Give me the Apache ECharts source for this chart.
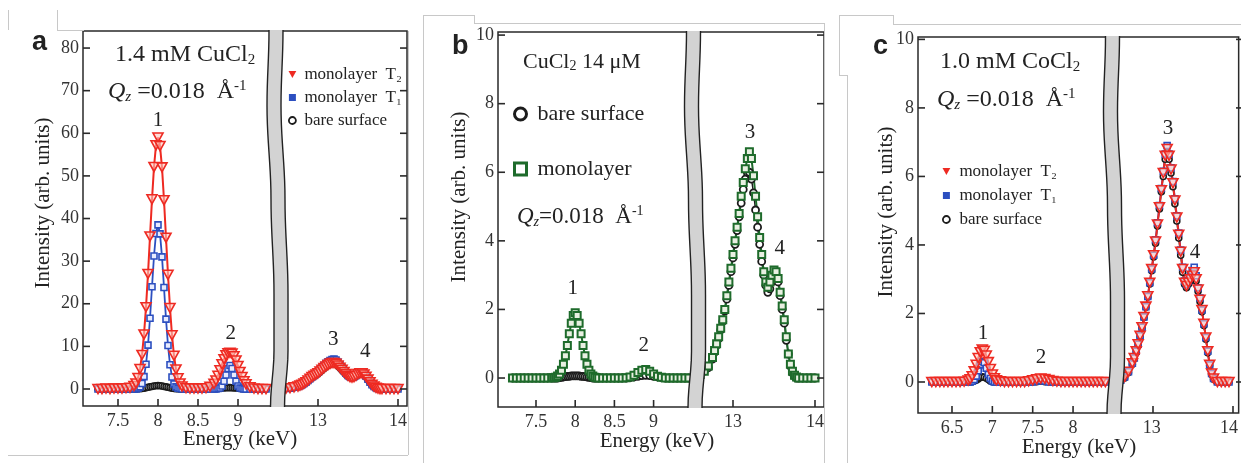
<!DOCTYPE html>
<html>
<head>
<meta charset="utf-8">
<script src="https://cdn.jsdelivr.net/npm/echarts@6/dist/echarts.min.js"></script>
<style>
  html, body { margin: 0; background: #fff; }
  #chart { width: 1241px; height: 463px; }
</style>
</head>
<body>
<div id="chart"></div>
<script>
// ---- data (energy in keV, intensity in arb. units) ----
const eLeftA = [7.25,7.3,7.35,7.4,7.45,7.5,7.55,7.6,7.65,7.7,
  7.725,7.75,7.775,7.8,7.825,7.85,7.875,7.9,7.925,7.95,7.975,8.0,8.025,8.05,8.075,8.1,8.125,8.15,8.175,8.2,8.225,8.25,8.275,8.3,
  8.35,8.4,8.45,8.5,8.55,8.6,8.65,8.7,
  8.725,8.75,8.775,8.8,8.825,8.85,8.875,8.9,8.925,8.95,8.975,9.0,9.025,9.05,9.075,9.1,
  9.15,9.2,9.25,9.3,9.35]
const aT2Left = [0.0,0.0,0.1,0.0,0.1,0.1,0.1,0.2,0.3,0.7,
  1.3,2.6,4.7,8.0,12.8,19.2,27.0,35.8,44.5,52.1,57.2,59.0,57.0,52.0,44.3,35.5,26.8,19.0,12.6,7.8,4.6,2.5,1.3,0.6,
  0.2,0.1,0.1,0.1,0.1,0.2,0.5,1.2,
  2.0,3.1,4.4,5.8,7.0,7.9,8.4,8.5,8.3,7.7,6.7,5.4,4.0,2.8,1.8,1.1,
  0.4,0.1,0.0,0.0,0.0]
const aT1Left = [0,0,0,0,0,0,0,0,0,0,
  0.0,0.2,0.5,1.3,2.9,5.8,10.3,16.6,24.0,31.2,36.5,38.5,36.4,31.0,23.8,16.4,10.2,5.7,2.8,1.2,0.5,0.2,0.1,0.0,
  0,0,0,0,0,0,0,0,
  0.0,0.1,0.24,0.7,1.8,3.3,4.8,5.5,4.8,3.3,1.8,0.7,0.24,0.1,0.0,0.0,
  0,0,0,0,0]
const aBareLeft = [0,0,0,0,0,0,0,0,0,0,
  0.0,0.05,0.08,0.12,0.2,0.3,0.4,0.5,0.6,0.7,0.75,0.8,0.75,0.7,0.6,0.5,0.4,0.3,0.2,0.12,0.08,0.05,0.0,0.0,
  0,0,0,0,0,0,0,0.05,
  0.08,0.12,0.18,0.22,0.26,0.3,0.32,0.32,0.3,0.26,0.22,0.18,0.12,0.08,0.05,0.0,
  0,0,0,0,0]

const eRight = [12.55,12.6,12.65,12.7,12.75,
  12.775,12.8,12.825,12.85,12.875,12.9,12.925,12.95,12.975,13.0,
  13.025,13.05,13.075,13.1,13.125,13.15,13.175,13.2,13.225,13.25,
  13.275,13.3,13.325,13.35,13.375,13.4,13.425,13.45,13.475,13.5,
  13.525,13.55,13.575,13.6,13.625,13.65,13.675,13.7,13.725,13.75,
  13.775,13.8,13.85,13.9,13.95,14.0]
const aT2Right = [0.0,0.1,0.2,0.4,0.6,
  0.8,1.0,1.3,1.6,2.0,2.4,2.8,3.1,3.4,3.7,
  4.1,4.5,4.9,5.3,5.6,5.9,6.1,6.1,5.9,5.5,
  5.0,4.5,4.0,3.5,3.1,2.8,2.7,2.8,3.1,3.5,
  3.7,3.7,3.4,2.9,2.2,1.6,1.0,0.6,0.3,0.1,
  0.0,0.0,0.0,0.0,0.0,0.0]
const aT1Right = [0.0,0.1,0.2,0.4,0.6,
  0.8,1.0,1.3,1.6,2.0,2.4,2.8,3.2,3.6,4.0,
  4.5,5.0,5.5,6.0,6.4,6.7,6.9,7.0,6.8,6.3,
  5.7,5.0,4.3,3.7,3.2,2.9,2.8,2.9,3.2,3.6,
  3.9,3.9,3.6,3.0,2.3,1.6,1.0,0.6,0.3,0.1,
  0.0,0.0,0.0,0.0,0.0,0.0]
const aBareRight = [0.0,0.1,0.2,0.3,0.5,
  0.7,0.9,1.2,1.5,1.9,2.3,2.7,3.0,3.3,3.6,
  4.0,4.4,4.8,5.2,5.5,5.8,6.0,6.0,5.8,5.4,
  4.9,4.4,3.9,3.4,3.0,2.7,2.6,2.7,3.0,3.4,
  3.6,3.6,3.3,2.8,2.1,1.5,0.9,0.5,0.2,0.1,
  0.0,0.0,0.0,0.0,0.0,0.0]

const eLeftB = [7.2,7.25,7.3,7.35,7.4,7.45,7.5,7.55,7.6,7.65,7.7,
  7.725,7.75,7.775,7.8,7.825,7.85,7.875,7.9,7.925,7.95,7.975,8.0,8.025,8.05,8.075,8.1,8.125,8.15,8.175,8.2,8.225,8.25,8.275,8.3,
  8.35,8.4,8.45,8.5,8.55,8.6,8.65,8.7,8.75,8.8,8.85,8.9,8.95,9.0,9.05,9.1,9.15,9.2,9.25,9.3,9.35,9.4,9.45]
const bMonoLeft = [0,0,0,0,0,0,0,0,0,0,0.01,
  0.01,0.025,0.06,0.12,0.23,0.4,0.65,0.95,1.29,1.6,1.82,1.9,1.82,1.6,1.29,0.95,0.65,0.4,0.23,0.12,0.06,0.025,0.01,0.0,
  0,0,0,0,0,0,0.01,0.03,0.08,0.16,0.23,0.25,0.2,0.12,0.05,0.02,0,0,0,0,0,0,0]
const bBareLeft = [0,0,0,0,0,0,0,0,0,0,0,
  0,0,0,0.01,0.02,0.03,0.04,0.05,0.05,0.06,0.06,0.06,0.06,0.06,0.05,0.05,0.04,0.03,0.02,0.01,0,0,0,0,
  0,0,0,0,0,0,0,0.01,0.03,0.05,0.07,0.08,0.07,0.05,0.03,0.01,0,0,0,0,0,0,0]
const bMonoRight = [0.05,0.1,0.2,0.35,0.6,
  0.8,1.0,1.2,1.45,1.7,2.0,2.4,2.8,3.2,3.6,
  4.0,4.4,4.8,5.3,5.7,6.1,6.4,6.6,6.4,5.9,
  5.3,4.7,4.1,3.6,3.1,2.8,2.65,2.8,3.0,3.15,
  3.1,2.9,2.5,2.1,1.7,1.2,0.7,0.4,0.2,0.08,
  0.03,0.0,0.0,0.0,0.0,0.0]
const bBareRight = [0.0,0.1,0.2,0.3,0.55,
  0.75,0.95,1.15,1.4,1.65,1.95,2.3,2.7,3.1,3.5,
  3.9,4.3,4.7,5.1,5.5,5.8,6.0,6.0,5.8,5.4,
  4.9,4.4,3.9,3.4,3.0,2.7,2.5,2.6,2.8,3.0,
  3.0,2.8,2.4,2.0,1.6,1.1,0.7,0.35,0.15,0.05,
  0.0,0.0,0.0,0.0,0.0,0.0]

const eLeftC = [6.25,6.3,6.35,6.4,6.45,6.5,6.55,6.6,6.65,6.7,
  6.725,6.75,6.775,6.8,6.825,6.85,6.875,6.9,6.925,6.95,6.975,7.0,7.025,7.05,
  7.1,7.15,7.2,7.25,7.3,7.35,7.4,7.45,7.5,7.55,7.6,7.65,7.7,7.75,7.8,7.85,7.9,7.95,8.0,8.05,8.1,8.15,8.2,8.25,8.3,8.35,8.4]
const cT2Left = [0,0,0,0,0,0,0,0,0.01,0.04,
  0.08,0.17,0.31,0.5,0.7,0.87,0.95,0.91,0.77,0.58,0.38,0.22,0.11,0.05,
  0.02,0,0,0,0,0,0,0.02,0.05,0.08,0.1,0.09,0.06,0.03,0.01,0,0,0,0,0,0,0,0,0,0,0,0]
const cT1Left = [0,0,0,0,0,0,0,0,0,0,
  0.0,0.02,0.07,0.17,0.33,0.5,0.6,0.56,0.4,0.22,0.1,0.03,0.0,0.0,
  0,0,0,0,0,0,0,0,0,0.03,0.04,0.03,0,0,0,0,0,0,0,0,0,0,0,0,0,0,0]
const cBareLeft = [0,0,0,0,0,0,0,0,0,0,
  0,0.01,0.03,0.05,0.09,0.13,0.15,0.14,0.11,0.07,0.03,0.01,0,0,
  0,0,0,0,0,0,0,0,0,0.01,0.02,0.01,0,0,0,0,0,0,0,0,0,0,0,0,0,0,0]
const cT2Right = [0.0,0.05,0.15,0.3,0.55,
  0.7,0.9,1.1,1.35,1.6,1.9,2.2,2.5,2.9,3.3,
  3.7,4.1,4.6,5.1,5.6,6.1,6.6,6.8,6.6,6.2,
  5.8,5.3,4.8,4.3,3.8,3.3,2.9,2.8,2.9,3.0,
  3.1,3.2,3.0,2.7,2.4,2.1,1.7,1.3,0.9,0.5,
  0.25,0.1,0.0,0.0,0.0,0.0]
const cT1Right = [0.0,0.05,0.15,0.3,0.55,
  0.7,0.9,1.1,1.35,1.6,1.9,2.2,2.5,2.9,3.3,
  3.7,4.15,4.65,5.15,5.65,6.15,6.65,6.9,6.65,6.25,
  5.85,5.35,4.85,4.35,3.85,3.35,2.95,2.85,2.95,3.1,
  3.25,3.35,3.1,2.75,2.45,2.1,1.7,1.3,0.9,0.5,
  0.25,0.1,0.0,0.0,0.0,0.0]
const cBareRight = [0.0,0.05,0.12,0.28,0.52,
  0.68,0.88,1.08,1.32,1.58,1.88,2.18,2.48,2.86,3.25,
  3.65,4.05,4.55,5.05,5.55,6.0,6.5,6.7,6.5,6.1,
  5.7,5.2,4.7,4.2,3.7,3.2,2.85,2.75,2.85,2.95,
  3.05,3.15,2.95,2.65,2.35,2.05,1.65,1.25,0.85,0.48,
  0.22,0.08,0.0,0.0,0.0,0.0]

// tick labels
const xTicksCu = [7.5, 8, 8.5, 9]
const xTicksCo = [6.5, 7, 7.5, 8]
const xTicksHigh = [13, 14]
const yTicksA = [0, 10, 20, 30, 40, 50, 60, 70, 80]
const yTicksBC = [0, 2, 4, 6, 8, 10]

// ---- styling ----
const RED = '#ee2a22', BLUE = '#2c4fc0', BLK = '#1c1c1c', GREEN = '#1e6b2b'
const TRI = 'path://M0,0L10,0L5,9Z'
const SQR = 'path://M0,0L10,0L10,10L0,10Z'
const SERIF = '"Liberation Serif","Times New Roman",serif'
const SANS = '"Liberation Sans",Arial,sans-serif'
const INK = '#222'
const FRAME = '#2a2a2a'

const pairs = (xs, ys) => xs.map((x, i) => [x, ys[i]])

function rule(x1, y1, x2, y2, color, width, z) {
  return {type: 'line', z: z || 1, silent: true, shape: {x1, y1, x2, y2},
    style: {stroke: color || '#c8c8c8', lineWidth: width || 1}}
}

// frame in px; xl / xr = [value, px, px per keV] of one tick on each side of the break
const panels = [
  {L: 83, S: 278, R: 407, T: 31, B: 406, xl: [7.5, 118, 80], xr: [13, 318, 80], y: [-3.99, 84.0], tl: xTicksCu, ty: yTicksA},
  {L: 498, S: 695, R: 824, T: 32, B: 407, xl: [7.5, 536, 78.4], xr: [13, 733, 82], y: [-0.845, 10.09], tl: xTicksCu, ty: yTicksBC},
  {L: 918, S: 1114, R: 1243, T: 37, B: 413, xl: [6.5, 952, 80.7], xr: [13, 1153, 80], y: [-0.905, 10.07], tl: xTicksCo, ty: yTicksBC}
]

const grids = [], xAxes = [], yAxes = [], tickMarks = []
panels.forEach((p, n) => {
  const segs = [[p.L, p.S, p.xl, p.tl], [p.S, p.R, p.xr, xTicksHigh]]
  const yPx = v => p.B - (v - p.y[0]) / (p.y[1] - p.y[0]) * (p.B - p.T)
  segs.forEach(([a, b, ref, ticks], j) => {
    const gi = n * 2 + j
    const k = ref[2]
    const min = ref[0] - (ref[1] - a) / k
    const max = min + (b - a) / k
    grids.push({left: a, top: p.T, width: b - a, height: p.B - p.T, show: true,
      borderColor: FRAME, borderWidth: 1.5, backgroundColor: 'transparent'})
    xAxes.push({gridIndex: gi, type: 'value', min: min, max: max, position: 'bottom',
      axisLine: {show: false, onZero: false}, splitLine: {show: false}, axisTick: {show: false},
      axisLabel: {customValues: ticks, fontFamily: SERIF, fontSize: 18, color: '#333', margin: 6}})
    yAxes.push({gridIndex: gi, type: 'value', min: p.y[0], max: p.y[1], position: j ? 'right' : 'left',
      axisLine: {show: false, onZero: false}, splitLine: {show: false}, axisTick: {show: false},
      axisLabel: {show: !j, customValues: p.ty, fontFamily: SERIF, fontSize: 18, color: '#333', margin: 4}})
    // short inward tick marks on the frame, at the same linear mapping as the axis above
    ticks.forEach(v => {
      const px = a + (v - min) * k
      tickMarks.push(rule(px, p.B, px, p.B - 7, FRAME, 1.6, 95))
    })
    const edge = j ? b : a, dir = j ? -7 : 7
    p.ty.forEach(v => tickMarks.push(rule(edge, yPx(v), edge + dir, yPx(v), FRAME, 1.6, 95)))
  })
})

const ST = {
  t2: {symbol: TRI, size: [10, 9], color: RED, fill: 'rgba(255,200,190,0.6)', bw: 1.6, lw: 2},
  t1: {symbol: 'rect', size: 6, color: BLUE, fill: '#e8ecff', bw: 1.6, lw: 1.8},
  bare: {symbol: 'circle', size: 6, color: BLK, fill: '#fff', bw: 1.6, lw: 1.4},
  bareB: {symbol: 'circle', size: 7, color: BLK, fill: '#fff', bw: 1.8, lw: 1.4},
  mono: {symbol: 'rect', size: 7, color: GREEN, fill: '#e9f0e2', bw: 2, lw: 2}
}

function line(name, gi, xs, ys, st, marks) {
  const s = {
    name, type: 'line', xAxisIndex: gi, yAxisIndex: gi, data: pairs(xs, ys),
    symbol: st.symbol, symbolSize: st.size, showSymbol: true, showAllSymbol: true, silent: true,
    lineStyle: {color: st.color, width: st.lw},
    itemStyle: {color: st.fill, borderColor: st.color, borderWidth: st.bw},
    emphasis: {disabled: true}
  }
  if (marks) {
    s.markPoint = {
      symbol: 'circle', symbolSize: 0, silent: true,
      label: {show: true, position: 'inside', formatter: '{b}', fontFamily: SERIF, fontSize: 21, color: INK},
      data: marks.map(m => ({name: m[0], coord: [m[1], m[2]]}))
    }
  }
  return s
}

const series = [
  line('bare surface', 0, eLeftA, aBareLeft, ST.bare),
  line('monolayer  T₁', 0, eLeftA, aT1Left, ST.t1),
  line('monolayer  T₂', 0, eLeftA, aT2Left, ST.t2, [['1', 8.0, 63.1], ['2', 8.91, 13.1]]),
  line('bare surface', 1, eRight, aBareRight, ST.bare),
  line('monolayer  T₁', 1, eRight, aT1Right, ST.t1),
  line('monolayer  T₂', 1, eRight, aT2Right, ST.t2, [['3', 13.19, 11.5], ['4', 13.59, 8.7]]),

  line('bare surface', 2, eLeftB, bBareLeft, ST.bareB),
  line('monolayer', 2, eLeftB, bMonoLeft, ST.mono, [['1', 7.97, 2.62], ['2', 8.875, 0.96]]),
  line('bare surface', 3, eRight, bBareRight, ST.bareB),
  line('monolayer', 3, eRight, bMonoRight, ST.mono, [['3', 13.207, 7.17], ['4', 13.57, 3.79]]),

  line('bare surface', 4, eLeftC, cBareLeft, ST.bare),
  line('monolayer  T₁', 4, eLeftC, cT1Left, ST.t1),
  line('monolayer  T₂', 4, eLeftC, cT2Left, ST.t2, [['1', 6.884, 1.43], ['2', 7.603, 0.73]]),
  line('bare surface', 5, eRight, cBareRight, ST.bare),
  line('monolayer  T₁', 5, eRight, cT1Right, ST.t1),
  line('monolayer  T₂', 5, eRight, cT2Right, ST.t2, [['3', 13.21, 7.39], ['4', 13.56, 3.77]])
]

const smallLegend = [
  {name: 'monolayer  T₂', icon: TRI, itemStyle: {color: RED, borderWidth: 0}},
  {name: 'monolayer  T₁', icon: SQR, itemStyle: {color: BLUE, borderWidth: 0}},
  {name: 'bare surface', icon: 'circle', itemStyle: {color: '#fff', borderColor: BLK, borderWidth: 1.8}}
]
const legends = [
  {left: 283, top: 61, orient: 'vertical', itemWidth: 14, itemHeight: 7, itemGap: 6, selectedMode: false, symbolKeepAspect: true,
    textStyle: {fontFamily: SERIF, fontSize: 17, color: INK}, data: smallLegend},
  {left: 508, top: 98, orient: 'vertical', itemWidth: 24, itemHeight: 12, itemGap: 33, selectedMode: false, symbolKeepAspect: true,
    textStyle: {fontFamily: SERIF, fontSize: 22, color: INK},
    data: [
      {name: 'bare surface', icon: 'circle', itemStyle: {color: '#fff', borderColor: BLK, borderWidth: 3}},
      {name: 'monolayer', icon: SQR, itemStyle: {color: '#fff', borderColor: GREEN, borderWidth: 3}}
    ]},
  {left: 937, top: 158, orient: 'vertical', itemWidth: 16, itemHeight: 7, itemGap: 7, selectedMode: false, symbolKeepAspect: true,
    textStyle: {fontFamily: SERIF, fontSize: 17, color: INK}, data: smallLegend}
]

// ---- decorations: axis break bands, titles, annotations ----
const bandProfile = [[0, 0], [0.2, -2], [0.45, 2], [0.7, 5], [0.85, 5], [1, 1.5]]
function bandDx(f) {
  for (let i = 1; i < bandProfile.length; i++) {
    const [f0, d0] = bandProfile[i - 1], [f1, d1] = bandProfile[i]
    if (f <= f1) {
      const t = (f - f0) / (f1 - f0), c = (1 - Math.cos(Math.PI * t)) / 2
      return d0 + (d1 - d0) * c
    }
  }
  return bandProfile[bandProfile.length - 1][1]
}
function breakBand(cx, top, bottom) {
  const lft = [], rgt = []
  for (let i = 0; i <= 40; i++) {
    const f = i / 40, y = top - 1 + f * (bottom - top + 2), x = cx + bandDx(f)
    lft.push([x - 7, y]); rgt.push([x + 7, y])
  }
  return [
    {type: 'polygon', z: 100, silent: true, shape: {points: lft.concat(rgt.slice().reverse())}, style: {fill: '#d3d3d3'}},
    {type: 'polyline', z: 101, silent: true, shape: {points: lft}, style: {stroke: '#222', lineWidth: 1.4, fill: null}},
    {type: 'polyline', z: 101, silent: true, shape: {points: rgt}, style: {stroke: '#222', lineWidth: 1.4, fill: null}}
  ]
}

const RICH = size => ({
  i: {fontFamily: SERIF, fontSize: size, fontStyle: 'italic', fill: INK, color: INK},
  z: {fontFamily: SERIF, fontSize: Math.round(size * 0.62), fontStyle: 'italic', padding: [Math.round(size * 0.42), 0, 0, 0], fill: INK, color: INK},
  s: {fontFamily: SERIF, fontSize: Math.round(size * 0.62), padding: [Math.round(size * 0.42), 0, 0, 0], fill: INK, color: INK},
  p: {fontFamily: SERIF, fontSize: Math.round(size * 0.62), padding: [0, 0, Math.round(size * 0.5), 0], fill: INK, color: INK}
})
function txt(x, y, text, size, opt) {
  opt = opt || {}
  return {
    type: 'text', x, y, z: 110, silent: true, rotation: opt.rot || 0,
    style: {
      text, fill: INK, fontFamily: opt.family || SERIF, fontSize: size, fontWeight: opt.bold ? 'bold' : 'normal',
      align: opt.align || 'left', verticalAlign: 'middle',
      textAlign: opt.align || 'left', textVerticalAlign: 'middle', rich: RICH(size)
    }
  }
}

const graphic = [
  // faint page outlines around the three panels
  rule(8.5, 10, 8.5, 30), rule(57.5, 10, 57.5, 30), rule(57, 30.5, 84, 30.5),
  rule(8, 455.5, 408, 455.5), rule(408.5, 31, 408.5, 455),
  rule(423.5, 15, 423.5, 463), rule(423, 15.5, 474, 15.5), rule(474.5, 15, 474.5, 23), rule(474, 23.5, 824, 23.5),
  rule(824.5, 23, 824.5, 463),
  rule(839.5, 15, 839.5, 75), rule(839, 15.5, 893, 15.5), rule(893.5, 15, 893.5, 24), rule(893, 24.5, 1241, 24.5),
  rule(839, 75.5, 847, 75.5), rule(847.5, 75, 847.5, 463),

  ...tickMarks,

  ...breakBand(276, 31, 406),
  ...breakBand(693.5, 32, 407),
  ...breakBand(1112.5, 37, 413),

  txt(32, 43, 'a', 27, {family: SANS, bold: true}),
  txt(115, 55, '1.4 mM CuCl{s|2}', 24),
  txt(108, 92, '{i|Q}{z|z} =0.018  Å{p|-1}', 24),
  txt(43, 203, 'Intensity (arb. units)', 21, {align: 'center', rot: Math.PI / 2}),
  txt(240, 439, 'Energy (keV)', 21, {align: 'center'}),

  txt(452, 47, 'b', 27, {family: SANS, bold: true}),
  txt(523, 62, 'CuCl{s|2} 14 μM', 22),
  txt(517, 217, '{i|Q}{z|z}=0.018  Å{p|-1}', 23),
  txt(459, 197, 'Intensity (arb. units)', 21, {align: 'center', rot: Math.PI / 2}),
  txt(657, 441, 'Energy (keV)', 21, {align: 'center'}),

  txt(873, 47, 'c', 27, {family: SANS, bold: true}),
  txt(940, 62, '1.0 mM CoCl{s|2}', 24),
  txt(937, 100, '{i|Q}{z|z} =0.018  Å{p|-1}', 24),
  txt(886, 212, 'Intensity (arb. units)', 21, {align: 'center', rot: Math.PI / 2}),
  txt(1079, 447, 'Energy (keV)', 21, {align: 'center'})
]

const mychart = echarts.init(document.getElementById('chart'))
mychart.setOption({
  animation: false,
  backgroundColor: '#fff',
  textStyle: {fontFamily: SERIF},
  grid: grids,
  xAxis: xAxes,
  yAxis: yAxes,
  legend: legends,
  series,
  graphic
})
</script>
</body>
</html>
